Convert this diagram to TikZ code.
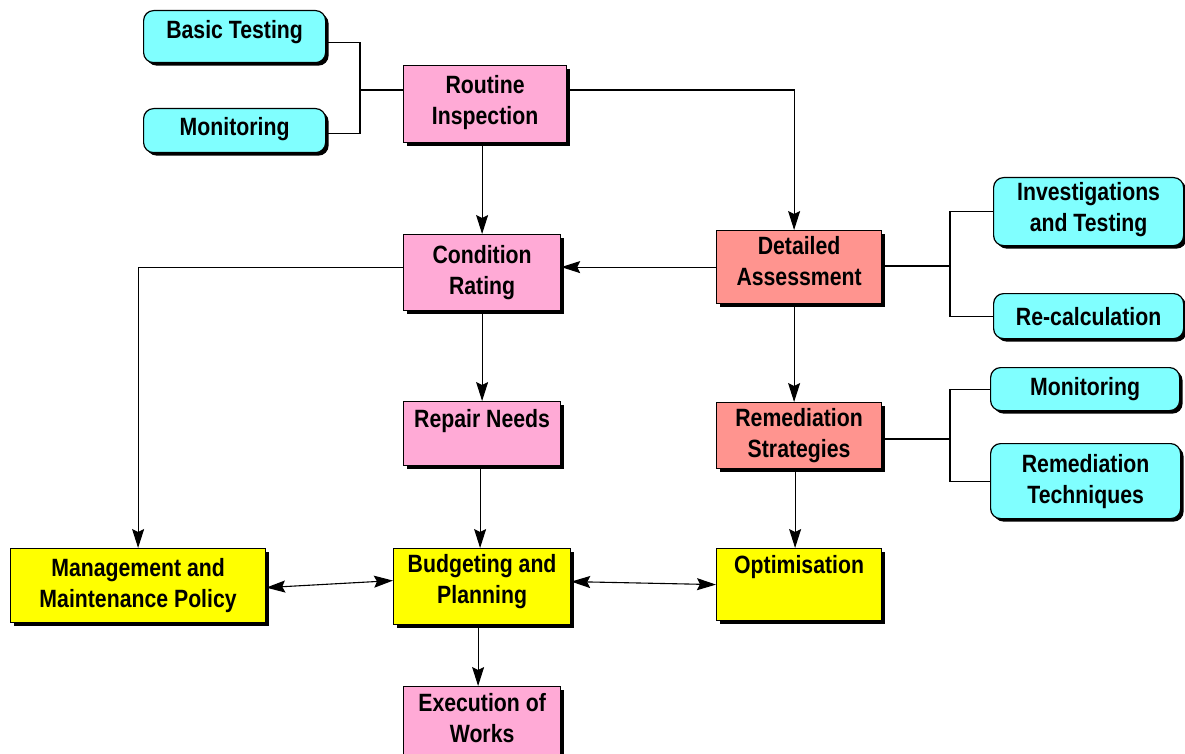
\documentclass[tikz,border=0pt]{standalone}
\usepackage{fontspec}
\newfontfamily\boxfont{Liberation Sans}[FakeStretch=0.85]
\usetikzlibrary{arrows.meta,shadows}

\definecolor{auxcyan}{RGB}{128,255,255}
\definecolor{stagepink}{RGB}{255,170,214}
\definecolor{assesssalmon}{RGB}{255,148,143}
\definecolor{planyellow}{RGB}{255,255,0}

\tikzset{
  box/.style={draw=black, line width=1.2pt, anchor=north west, align=center,
    inner sep=2pt, font=\boxfont\bfseries\fontsize{25}{31}\selectfont,
    drop shadow={shadow xshift=3pt, shadow yshift=-3pt, fill=black, opacity=1}},
  auxbox/.style={box, fill=auxcyan, rounded corners=10pt},
  stagebox/.style={box, fill=stagepink},
  assessbox/.style={box, fill=assesssalmon},
  planbox/.style={box, fill=planyellow},
  link/.style={draw=black, line width=1.1pt},
  arrowlink/.style={link, -{Stealth[length=19pt,width=12pt,inset=3pt]}},
  twoway/.style={link, {Stealth[length=19pt,width=12pt,inset=3pt]}-{Stealth[length=19pt,width=12pt,inset=3pt]}}
}

\begin{document}
\begin{tikzpicture}[x=1pt, y=-1pt]
  \clip (0,0) rectangle (1185,754);
  \fill[white] (0,0) rectangle (1185,754);

  % inspection level
  \node[auxbox, minimum width=182pt, minimum height=52pt, text depth=15pt] (bt) at (143,10) {Basic Testing};
  \node[auxbox, minimum width=182pt, minimum height=44pt, text depth=8pt] (mon1) at (143,108) {Monitoring};
  \node[stagebox, minimum width=163pt, minimum height=77pt, text depth=9pt] (ri) at (403,65) {Routine\\Inspection};

  % rating and assessment
  \node[stagebox, minimum width=157pt, minimum height=76pt] (cr) at (403,234) {Condition\\Rating};
  \node[assessbox, minimum width=165pt, minimum height=73pt, text depth=12pt] (da) at (716,230) {Detailed\\Assessment};
  \node[auxbox, minimum width=190pt, minimum height=68pt, text depth=9pt] (it) at (993,177) {Investigations\\and Testing};
  \node[auxbox, minimum width=190pt, minimum height=45pt] (rc) at (993,293) {Re-calculation};

  % needs and strategies
  \node[stagebox, minimum width=157pt, minimum height=64pt, text depth=30pt] (rn) at (403,401) {Repair Needs};
  \node[assessbox, minimum width=165pt, minimum height=66pt] (rs) at (716,402) {Remediation\\Strategies};
  \node[auxbox, minimum width=189pt, minimum height=43pt] (mon2) at (990,367) {Monitoring};
  \node[auxbox, minimum width=190pt, minimum height=75pt] (rt) at (990,443) {Remediation\\Techniques};

  % planning level
  \node[planbox, minimum width=255pt, minimum height=74pt] (mmp) at (10,548) {Management and\\Maintenance Policy};
  \node[planbox, minimum width=177pt, minimum height=76pt, text depth=15pt] (bp) at (393,548) {Budgeting and\\Planning};
  \node[planbox, minimum width=165pt, minimum height=72pt, text depth=40pt] (opt) at (716,548) {Optimisation};
  \node[stagebox, minimum width=157pt, minimum height=80pt, text depth=18pt] (ew) at (403,686) {Execution of\\Works};

  % junction points of the branching links
  \coordinate (j1) at (360,90);
  \coordinate (j2) at (950,266);
  \coordinate (j3) at (950,439);

  % routine inspection inputs
  \draw[link] ([yshift=-6pt]bt.east) -| (j1) |- ([yshift=-3pt]mon1.east);
  \draw[link] (j1) -- (j1 -| ri.west);

  % flow from routine inspection
  \draw[arrowlink] (ri.south -| cr.north) -- (cr.north);
  \draw[arrowlink] (ri.east |- j1) -| ([xshift=-5pt]da.north);

  % detailed assessment
  \draw[arrowlink] (da.west) -- (da.west -| cr.east);
  \draw[link] (da.east |- j2) -- (j2);
  \draw[link] (it.west) -| (j2) |- (rc.west);
  \draw[arrowlink] ([xshift=-5pt]da.south) -- ([xshift=-5pt]rs.north);

  % condition rating
  \draw[arrowlink] (cr.west |- da.west) -| (mmp.north);
  \draw[arrowlink] (cr.south) -- (rn.north);

  % remediation strategies
  \draw[link] (rs.east |- j3) -- (j3);
  \draw[link] (mon2.west) -| (j3) |- (rt.west);
  \draw[arrowlink] ([xshift=-4pt]rs.south) -- ([xshift=-4pt]opt.north);

  % planning
  \draw[arrowlink] ([xshift=-2pt]rn.south) -- ([xshift=-2pt]bp.north);
  \draw[twoway] ([yshift=-2pt]mmp.east) -- ([yshift=6pt]bp.west);
  \draw[twoway] ([yshift=5pt]bp.east) -- (opt.west);
  \draw[arrowlink] ([xshift=-4pt]bp.south) -- ([xshift=-4pt]ew.north);
\end{tikzpicture}
\end{document}
